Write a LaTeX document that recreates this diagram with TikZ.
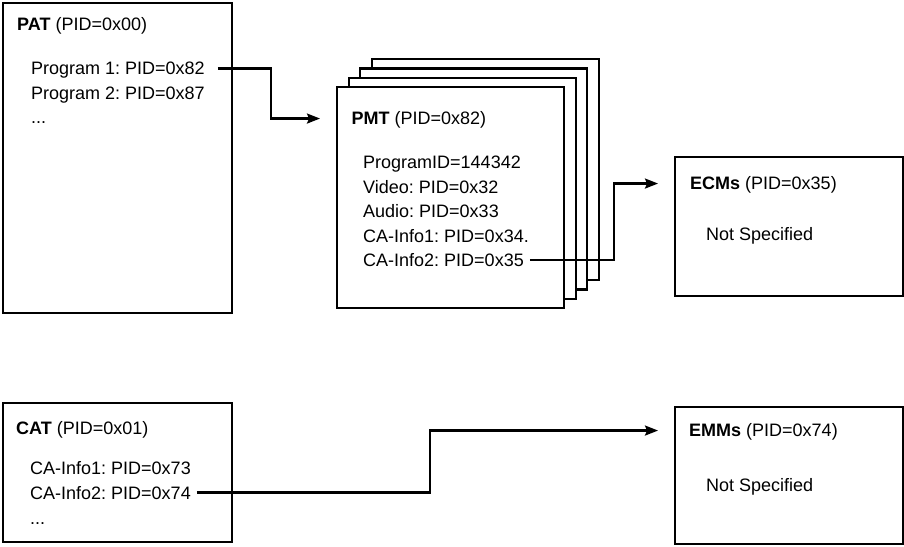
\documentclass[tikz,border=0pt]{standalone}
\usepackage{fontspec}
\setmainfont{Liberation Sans}
\usetikzlibrary{arrows.meta, calc}
\frenchspacing

\begin{document}
\begin{tikzpicture}[
    x=1pt, y=1pt,
    tbl/.style={
        draw, line width=2.4pt, fill=white, inner sep=0pt, anchor=north west
    },
    item/.style={
        anchor=base west, inner sep=0pt, text height=12.9pt, text depth=0pt,
        font=\fontsize{18}{22}\selectfont
    },
    conn/.style={
        line width=2.2pt, -{Stealth[length=13pt, width=10pt, inset=2pt]}, shorten >=16pt
    }
]
\useasboundingbox (0,0) rectangle (904,546);

% Draw tables
\node[tbl, minimum width=229pt, minimum height=310pt] (pat) at (2,544) {};
\foreach \i in {3,2,1} {
    \node[tbl, minimum width=227pt, minimum height=221pt] (pmtb\i) at ({336+11.5*\i}, {460+9.3*\i}) {};
}
\node[tbl, minimum width=227pt, minimum height=221pt] (pmt) at (336,460) {};
\node[tbl, minimum width=228pt, minimum height=139pt] (ecms) at (674,390) {};
\node[tbl, minimum width=229pt, minimum height=139pt] (cat) at (2,144) {};
\node[tbl, minimum width=228pt, minimum height=137pt] (emms) at (674,140) {};

% PAT entries
\node[item] (pattitle) at (17,515.5) {\textbf{PAT} (PID=0x00)};
\node[item] (pat1) at (31,471) {Program 1: PID=0x82};
\node[item] (pat2) at (31,446) {Program 2: PID=0x87};
\node[item] (pat3) at (31,422) {...};

% PMT entries
\node[item] (pmttitle) at (351.5,421) {\textbf{PMT} (PID=0x82)};
\foreach \t [count=\i] in {ProgramID=144342, Video: PID=0x32, Audio: PID=0x33,
    CA-Info1: PID=0x34., CA-Info2: PID=0x35} {
    \node[item] (pmt\i) at (363, {377-24.4*(\i-1)}) {\t};
}

% ECMs
\node[item] (ecmstitle) at (690,356) {\textbf{ECMs} (PID=0x35)};
\node[item] (ecms1) at (706,305.5) {Not Specified};

% CAT entries
\node[item] (cattitle) at (16,111) {\textbf{CAT} (PID=0x01)};
\node[item] (cat1) at (30,71) {CA-Info1: PID=0x73};
\node[item] (cat2) at (30,47) {CA-Info2: PID=0x74};
\node[item] (cat3) at (30,22) {...};

% EMMs
\node[item] (emmstitle) at (689,109) {\textbf{EMMs} (PID=0x74)};
\node[item] (emms1) at (706,55) {Not Specified};

% Connectors
\draw[conn] ([xshift=13pt]pat1.east) -- ++(53,0) |- (pmt.west |- pmttitle.west);
\draw[conn] ([xshift=6pt]pmt5.east) -- ++(84,0) |- (ecms.west |- ecmstitle.west);
\draw[conn] ([xshift=6pt]cat2.east) -- ++(233,0) |- (emms.west |- emmstitle.west);

\end{tikzpicture}
\end{document}
